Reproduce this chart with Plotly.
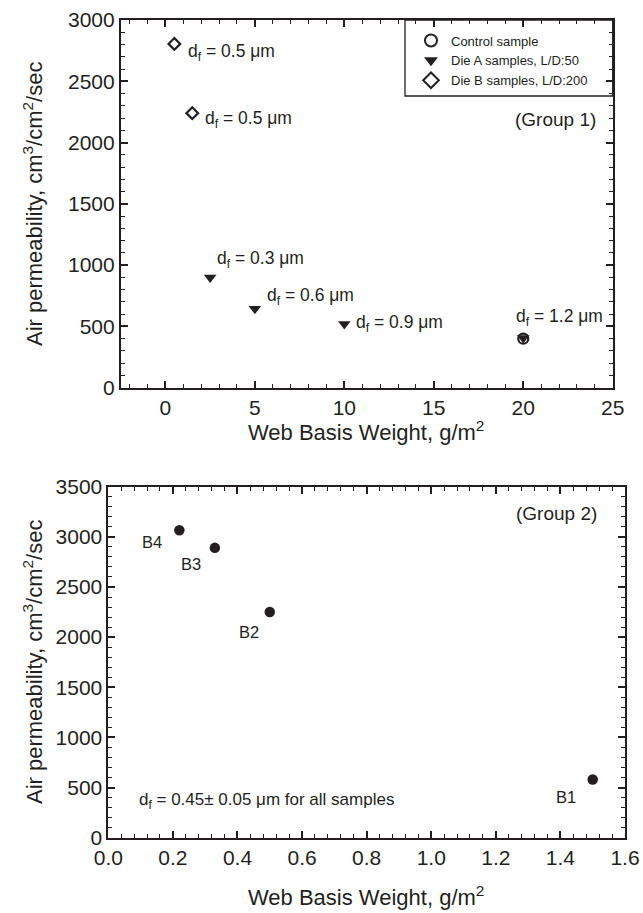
import plotly.graph_objects as go

# ---------------- Data: Group 1 ----------------
control_x = [20]
control_y = [400]
dieA_x = [2.5, 5, 10, 20]
dieA_y = [900, 645, 520, 405]
dieA_labels = ["d<sub>f</sub> = 0.3 μm", "d<sub>f</sub> = 0.6 μm", "d<sub>f</sub> = 0.9 μm", "d<sub>f</sub> = 1.2 μm"]
dieB_x = [0.5, 1.5]
dieB_y = [2805, 2240]
dieB_labels = ["d<sub>f</sub> = 0.5 μm", "d<sub>f</sub> = 0.5 μm"]

# ---------------- Data: Group 2 ----------------
b_labels = ["B4", "B3", "B2", "B1"]
b_x = [0.22, 0.33, 0.50, 1.50]
b_y = [3065, 2890, 2250, 580]

FONT = "Arial, Liberation Sans, Helvetica, sans-serif"
INK = "#231f20"

fig = go.Figure()

fig.add_trace(go.Scatter(x=control_x, y=control_y, mode="markers", name="Control sample",
                         marker=dict(symbol="circle-open", size=10, color=INK, line=dict(width=2.2, color=INK)),
                         xaxis="x", yaxis="y"))
fig.add_trace(go.Scatter(x=dieA_x, y=dieA_y, mode="markers", name="Die A samples, L/D:50",
                         marker=dict(symbol="triangle-down", size=11, color=INK, line=dict(width=0)),
                         xaxis="x", yaxis="y"))
fig.add_trace(go.Scatter(x=dieB_x, y=dieB_y, mode="markers", name="Die B samples, L/D:200",
                         marker=dict(symbol="diamond-open", size=9, color=INK, line=dict(width=2.2, color=INK)),
                         xaxis="x", yaxis="y"))
fig.add_trace(go.Scatter(x=b_x, y=b_y, mode="markers", showlegend=False,
                         marker=dict(symbol="circle", size=10.5, color=INK),
                         xaxis="x2", yaxis="y2"))

annotations = []
# (right shift px, down shift px)
dieB_shift = [(12, 9), (11, 6)]
for xv, yv, t, (dx, dy) in zip(dieB_x, dieB_y, dieB_labels, dieB_shift):
    annotations.append(dict(x=xv, y=yv, xref="x", yref="y", text=t, showarrow=False,
                            xanchor="left", yanchor="middle", xshift=dx, yshift=-dy,
                            font=dict(size=17.5, color=INK, family=FONT)))
dieA_shift = [(5, -18), (10, -12), (10, 0), (-9, -21)]
for xv, yv, t, (dx, dy) in zip(dieA_x, dieA_y, dieA_labels, dieA_shift):
    annotations.append(dict(x=xv, y=yv, xref="x", yref="y", text=t, showarrow=False,
                            xanchor="left", yanchor="middle", xshift=dx, yshift=-dy,
                            font=dict(size=17.5, color=INK, family=FONT)))
b_shift = [(-15, 12), (-12, 16), (-9, 20), (-15, 17)]
for xv, yv, t, (dx, dy) in zip(b_x, b_y, b_labels, b_shift):
    annotations.append(dict(x=xv, y=yv, xref="x2", yref="y2", text=t, showarrow=False,
                            xanchor="right", yanchor="middle", xshift=dx, yshift=-dy,
                            font=dict(size=16.5, color=INK, family=FONT)))

annotations.append(dict(x=24.2, y=2190, xref="x", yref="y", text="(Group 1)", showarrow=False,
                        xanchor="right", yanchor="middle", font=dict(size=19, color=INK, family=FONT)))
annotations.append(dict(x=1.52, y=3235, xref="x2", yref="y2", text="(Group 2)", showarrow=False,
                        xanchor="right", yanchor="middle", font=dict(size=19, color=INK, family=FONT)))
annotations.append(dict(x=0.088, y=370, xref="x2", yref="y2",
                        text="d<sub>f</sub> = 0.45± 0.05 μm for all samples", showarrow=False,
                        xanchor="left", yanchor="middle", font=dict(size=17, color=INK, family=FONT)))

ytitle = "Air permeability, cm<sup>3</sup>/cm<sup>2</sup>/sec"
xtitle = "Web Basis Weight, g/m<sup>2</sup>"
annotations.append(dict(x=33/643, y=1-204/913, xref="paper", yref="paper", text=ytitle, textangle=-90,
                        showarrow=False, xanchor="center", yanchor="middle",
                        font=dict(size=22, color=INK, family=FONT)))
annotations.append(dict(x=33/643, y=1-662/913, xref="paper", yref="paper", text=ytitle, textangle=-90,
                        showarrow=False, xanchor="center", yanchor="middle",
                        font=dict(size=22, color=INK, family=FONT)))
annotations.append(dict(x=366/643, y=1-431/913, xref="paper", yref="paper", text=xtitle,
                        showarrow=False, xanchor="center", yanchor="middle",
                        font=dict(size=22, color=INK, family=FONT)))
annotations.append(dict(x=366/643, y=1-896/913, xref="paper", yref="paper", text=xtitle,
                        showarrow=False, xanchor="center", yanchor="middle",
                        font=dict(size=22, color=INK, family=FONT)))

axis_common = dict(showline=True, linecolor=INK, linewidth=1.6, mirror="allticks",
                   ticks="inside", ticklen=7, tickwidth=1.6, tickcolor=INK,
                   showgrid=False, zeroline=False,
                   tickfont=dict(size=21, color=INK, family=FONT))
minor_common = dict(ticks="inside", ticklen=4, tickcolor=INK, tickwidth=1.4, showgrid=False)

fig.update_layout(
    width=643, height=913,
    margin=dict(l=0, r=0, t=0, b=0, pad=0, autoexpand=False),
    paper_bgcolor="white", plot_bgcolor="white",
    xaxis=dict(domain=[120.7/643, 612.7/643], range=[-2.5, 25], dtick=5, tick0=0,
               minor=dict(dtick=1, **minor_common), anchor="y", **axis_common),
    yaxis=dict(domain=[1-387.7/913, 1-20/913], range=[0, 3000], dtick=500,
               minor=dict(dtick=100, **minor_common), anchor="x", **axis_common),
    xaxis2=dict(domain=[108.3/643, 625/643], range=[0, 1.6], dtick=0.2, tick0=0, tickformat=".1f",
                minor=dict(dtick=0.04, **minor_common), anchor="y2", **axis_common),
    yaxis2=dict(domain=[1-837.7/913, 1-486.7/913], range=[0, 3500], dtick=500,
                minor=dict(dtick=100, **minor_common), anchor="x2", **axis_common),
    legend=dict(x=411/643, y=1-25.5/913, xanchor="left", yanchor="top",
                bgcolor="rgba(0,0,0,0)", borderwidth=0,
                font=dict(size=13, color=INK, family=FONT), tracegroupgap=0, itemsizing="constant"),
    annotations=annotations,
    shapes=[dict(type="rect", xref="paper", yref="paper", x0=405/643, x1=612.7/643,
                 y0=1-96/913, y1=1-20/913, line=dict(color=INK, width=1.3), fillcolor="rgba(0,0,0,0)")],
)

fig.write_html("out.html")
